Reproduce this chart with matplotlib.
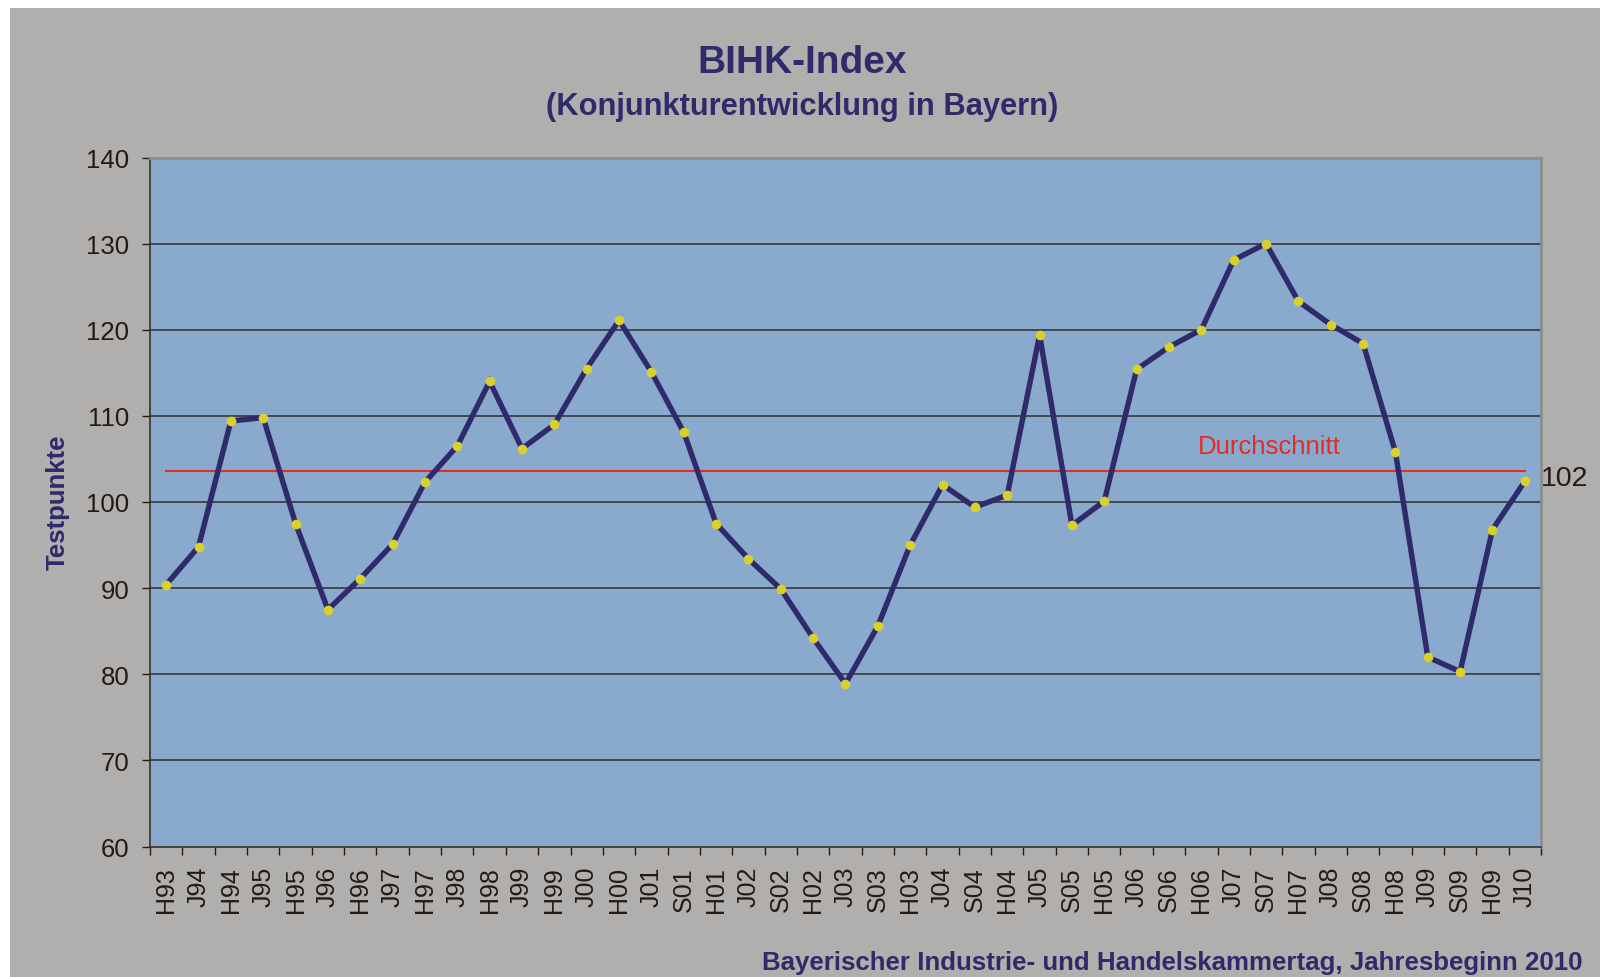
import matplotlib
matplotlib.use("Agg")
import matplotlib.pyplot as plt
from matplotlib.patches import Rectangle

plt.rcParams['font.family'] = ['Liberation Sans', 'DejaVu Sans']

## x categories (half-year surveys) and index values
categories = ["H93", "J94", "H94", "J95", "H95", "J96", "H96", "J97", "H97", "J98",
              "H98", "J99", "H99", "J00", "H00", "J01", "S01", "H01", "J02", "S02",
              "H02", "J03", "S03", "H03", "J04", "S04", "H04", "J05", "S05", "H05",
              "J06", "S06", "H06", "J07", "S07", "H07", "J08", "S08", "H08", "J09",
              "S09", "H09", "J10"]
index_values = [90.4, 94.8, 109.4, 109.8, 97.5, 87.5, 91.1, 95.1, 102.3, 106.5,
                114.0, 106.2, 109.0, 115.5, 121.1, 115.1, 108.1, 97.5, 93.4, 89.9,
                84.2, 78.9, 85.6, 95.0, 102.0, 99.4, 100.8, 119.4, 97.3, 100.1,
                115.4, 118.0, 120.0, 128.1, 130.0, 123.3, 120.6, 118.4, 105.8, 82.0,
                80.3, 96.8, 102.4]
average = 103.6
last_label = "102"
y_ticks = [60, 70, 80, 90, 100, 110, 120, 130, 140]

navy = '#2e2a6b'
dark = '#231a12'

fig = plt.figure(figsize=(16.03, 9.78), dpi=100, facecolor='white')
# gray panel behind everything (white strip at top/left)
fig.patches.append(Rectangle((10 / 1603, 0), 1590 / 1603, 969 / 978,
                             transform=fig.transFigure, facecolor='#b0afad',
                             edgecolor='none', zorder=-10))

ax = fig.add_axes([150 / 1603, 130.5 / 978, 1391 / 1603, 689 / 978])
ax.set_facecolor('#8aaacd')

x = list(range(len(categories)))
ax.plot(x, index_values, color=navy, lw=3.9, zorder=3, solid_joinstyle='miter')
ax.plot(x, index_values, ls='none', marker='o', ms=7, mfc='#d8d12c',
        mec='none', zorder=4)

# average line
ax.plot([x[0], x[-1]], [average, average], color='#e52b26', lw=1.5, zorder=2)
ax.text(34.1, 106.5, "Durchschnitt", color='#e52b26', fontsize=18.5,
        ha='center', va='center', zorder=5)
ax.text(len(categories) - 0.5, 102.8, last_label, color=dark, fontsize=20.5,
        ha='left', va='center', clip_on=False)

ax.set_xlim(-0.5, len(categories) - 0.5)
ax.set_ylim(60, 140)
ax.set_yticks(y_ticks)
ax.set_yticklabels([str(v) for v in y_ticks], fontsize=18.5, color=dark)
ax.set_xticks(x)
ax.set_xticklabels(categories, rotation=90, fontsize=18, color=dark)
ax.set_xticks([i - 0.5 for i in range(len(categories) + 1)], minor=True)
ax.tick_params(axis='x', which='major', length=0, pad=14)
ax.tick_params(axis='x', which='minor', length=5.4, width=1, color=dark)
ax.tick_params(axis='y', length=5.8, width=1, color=dark, pad=9)

for v in y_ticks[1:-1]:
    ax.axhline(v, color='#2f2d2b', lw=1.1, zorder=1)

for side in ['left', 'bottom']:
    ax.spines[side].set_color('#3a3028')
    ax.spines[side].set_linewidth(1.2)
for side in ['top', 'right']:
    ax.spines[side].set_color('#8e8d8b')
    ax.spines[side].set_linewidth(2)

fig.text(802 / 1603, 1 - 63 / 978, "BIHK-Index", fontsize=28, fontweight='bold',
         color=navy, ha='center', va='center')
fig.text(802 / 1603, 1 - 107 / 978, "(Konjunkturentwicklung in Bayern)", fontsize=22.2,
         fontweight='bold', color=navy, ha='center', va='center')
fig.text(58 / 1603, 1 - 502 / 978, "Testpunkte", fontsize=18.5, fontweight='bold',
         color=navy, rotation=90, ha='center', va='center')
fig.text(1582 / 1603, 1 - 963 / 978,
         "Bayerischer Industrie- und Handelskammertag, Jahresbeginn 2010",
         fontsize=18.6, fontweight='bold', color=navy, ha='right', va='center')

fig.savefig("out.png", dpi=100, facecolor='white')
